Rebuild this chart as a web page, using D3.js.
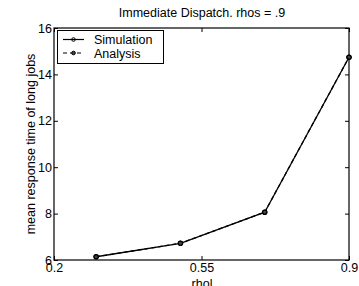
<!DOCTYPE html>
<html>
<head>
<meta charset="utf-8">
<script src="https://cdn.jsdelivr.net/npm/d3@7"></script>
<style>
  body { margin: 0; background: #fff; }
  text { font-family: "Liberation Sans", Arial, sans-serif; }
</style>
</head>
<body>
<script>
// chart data
const rhoL = [0.3, 0.5, 0.7, 0.9];
const simulation = [6.14, 6.72, 8.06, 14.74];
const analysis = [6.14, 6.72, 8.06, 14.74];
const xTicks = [0.2, 0.55, 0.9];
const yTicks = [6, 8, 10, 12, 14, 16];

const W = 359, H = 286;
const m = { left: 54, right: 10, top: 28, bottom: 26 };

const svg = d3.select("body").append("svg").attr("width", W).attr("height", H);

const x = d3.scaleLinear().domain([0.2, 0.9]).range([m.left, W - m.right]);
const y = d3.scaleLinear().domain([6, 16]).range([H - m.bottom, m.top]);

// frame
svg.append("rect")
    .attr("x", x(0.2)).attr("y", y(16))
    .attr("width", x(0.9) - x(0.2)).attr("height", y(6) - y(16))
    .attr("fill", "none").attr("stroke", "#000").attr("stroke-width", 1.2);

// axes with ticks pointing inward, mirrored on the opposite side
const fmtX = d => d === 0.55 ? "0.55" : d3.format(".1f")(d);
svg.append("g").attr("transform", `translate(0,${y(6)})`)
    .call(d3.axisBottom(x).tickValues(xTicks).tickSize(-4).tickPadding(3).tickFormat(fmtX));
svg.append("g").attr("transform", `translate(0,${y(16)})`)
    .call(d3.axisTop(x).tickValues(xTicks).tickSize(-4).tickFormat(""));
svg.append("g").attr("transform", `translate(${x(0.2)},0)`)
    .call(d3.axisLeft(y).tickValues(yTicks).tickSize(-4).tickPadding(2));
svg.append("g").attr("transform", `translate(${x(0.9)},0)`)
    .call(d3.axisRight(y).tickValues(yTicks).tickSize(-4).tickFormat(""));

svg.selectAll(".domain").remove();
svg.selectAll(".tick line").attr("stroke", "#000");
svg.selectAll(".tick text").attr("font-size", 12.5).attr("fill", "#000")
    .attr("font-family", "Liberation Sans, Arial, sans-serif");

// series
const line = d3.line().x(d => x(d[0])).y(d => y(d[1]));
const simPts = rhoL.map((r, i) => [r, simulation[i]]);
const anaPts = rhoL.map((r, i) => [r, analysis[i]]);

svg.append("path").datum(anaPts).attr("d", line)
    .attr("fill", "none").attr("stroke", "#000").attr("stroke-width", 1.3)
    .attr("stroke-dasharray", "4,3");
svg.append("path").datum(simPts).attr("d", line)
    .attr("fill", "none").attr("stroke", "#000").attr("stroke-width", 1.3);

svg.selectAll("circle.ana").data(anaPts).enter().append("circle")
    .attr("class", "ana")
    .attr("cx", d => x(d[0])).attr("cy", d => y(d[1])).attr("r", 2.2)
    .attr("fill", "#444").attr("stroke", "#000").attr("stroke-width", 1);
svg.selectAll("circle.sim").data(simPts).enter().append("circle")
    .attr("class", "sim")
    .attr("cx", d => x(d[0])).attr("cy", d => y(d[1])).attr("r", 2.2)
    .attr("fill", "none").attr("stroke", "#000").attr("stroke-width", 1.2);

// legend
const lg = svg.append("g");
lg.append("rect").attr("x", 57.5).attr("y", 30.5).attr("width", 106).attr("height", 33)
    .attr("fill", "#fff").attr("stroke", "#000").attr("stroke-width", 1);
const entries = [
    { name: "Simulation", dash: null, fill: "none" },
    { name: "Analysis", dash: "4,3", fill: "#444" }
];
entries.forEach((e, i) => {
    const ly = 39.5 + i * 13.5;
    lg.append("line").attr("x1", 63).attr("x2", 84).attr("y1", ly).attr("y2", ly)
        .attr("stroke", "#000").attr("stroke-width", 1.2)
        .attr("stroke-dasharray", e.dash);
    lg.append("circle").attr("cx", 73.5).attr("cy", ly).attr("r", 1.8)
        .attr("fill", e.fill).attr("stroke", "#000").attr("stroke-width", 1);
    lg.append("text").attr("x", 94).attr("y", ly + 4.5).attr("font-size", 12.5).text(e.name);
});

// title and axis labels
svg.append("text").attr("x", 202).attr("y", 17).attr("text-anchor", "middle")
    .attr("font-size", 12.5).text("Immediate Dispatch. rhos = .9");
svg.append("text").attr("x", 202).attr("y", 288).attr("text-anchor", "middle")
    .attr("font-size", 12.5).text("rhol");
svg.append("text").attr("transform", "rotate(-90)")
    .attr("x", -(y(6) + y(16)) / 2).attr("y", 35).attr("text-anchor", "middle")
    .attr("font-size", 12.5).text("mean response time of long jobs");
</script>
</body>
</html>
